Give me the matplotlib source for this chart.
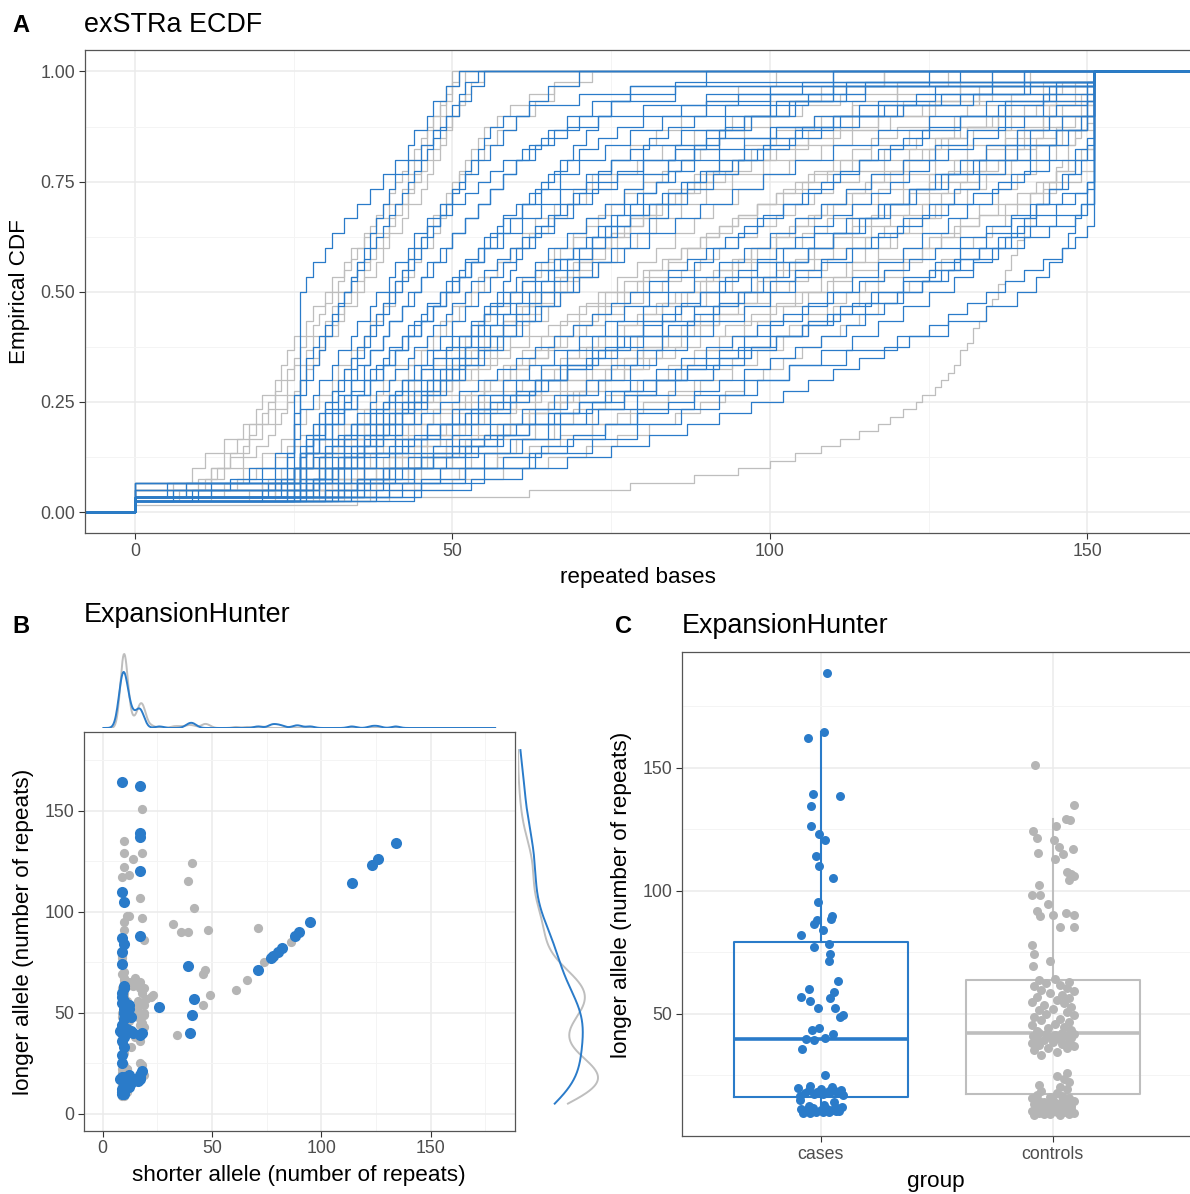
import matplotlib.pyplot as plt
import numpy as np

plt.rcParams['font.family'] = ['Liberation Sans', 'DejaVu Sans']

W, H = 1190, 1194
BLUE = '#2a7bc9'
GREY = '#bebebe'
GREY_PT = '#b5b5b5'
TXT = '#4d4d4d'
FRAME = '#555555'

# ---------------- A: exSTRa ECDF (repeated bases per sample) ----------------
ecdf_controls = [
    [0, 6, 9, 11, 14, 17, 19, 20, 22, 23, 24, 25, 27, 28, 30, 31, 33, 34, 36, 38, 40, 42, 43, 44, 45, 46, 47, 48, 49, 50],
    [0, 8, 12, 14, 16, 18, 21, 22, 24, 25, 27, 28, 30, 31, 32, 34, 35, 37, 38, 40, 41, 43, 44, 45, 46, 47, 48, 49, 50, 51],
    [0, 0, 12, 15, 18, 20, 22, 24, 26, 27, 29, 30, 32, 33, 35, 36, 38, 39, 40, 42, 43, 45, 46, 47, 48, 49, 50, 51, 52, 52],
    [0, 14, 17, 20, 23, 25, 27, 29, 31, 32, 34, 36, 37, 39, 41, 42, 44, 45, 47, 48, 49, 50, 51, 53, 55, 57, 60, 63, 66, 70],
    [0, 20, 25, 28, 31, 33, 36, 38, 40, 43, 45, 47, 49, 51, 53, 55, 57, 59, 61, 63, 66, 69, 72, 75, 78, 82, 86, 90, 95, 101],
    [0, 22, 27, 30, 33, 36, 39, 42, 44, 47, 49, 52, 54, 56, 59, 61, 64, 66, 69, 71, 74, 77, 80, 84, 88, 92, 97, 103, 110, 118],
    [0, 0, 26, 30, 34, 38, 41, 44, 47, 50, 53, 56, 58, 61, 64, 67, 70, 72, 75, 78, 81, 84, 88, 92, 96, 101, 107, 113, 120, 128],
    [0, 28, 33, 37, 41, 45, 48, 52, 55, 58, 61, 64, 67, 70, 73, 76, 79, 82, 85, 88, 91, 95, 99, 103, 108, 113, 119, 126, 133, 151],
    [0, 24, 29, 34, 39, 43, 47, 51, 55, 59, 63, 66, 70, 73, 77, 80, 84, 87, 90, 94, 98, 102, 106, 111, 116, 122, 129, 137, 151, 151],
    [0, 30, 36, 41, 46, 51, 55, 60, 64, 68, 72, 76, 80, 83, 87, 90, 94, 97, 101, 104, 108, 112, 116, 121, 126, 132, 138, 145, 151, 151],
    [0, 33, 40, 46, 52, 57, 62, 67, 71, 75, 79, 83, 87, 91, 95, 98, 102, 106, 110, 113, 117, 121, 125, 129, 134, 139, 144, 151, 151, 151],
    [0, 35, 43, 50, 57, 63, 69, 74, 79, 84, 88, 92, 96, 100, 104, 108, 112, 115, 119, 122, 126, 129, 133, 137, 141, 145, 149, 151, 151, 151],
    [0, 38, 48, 57, 65, 72, 78, 84, 89, 94, 98, 102, 106, 110, 114, 117, 121, 124, 127, 130, 133, 136, 139, 142, 145, 148, 151, 151, 151, 151],
    [0, 27, 31, 35, 38, 42, 45, 48, 51, 54, 57, 59, 62, 65, 67, 70, 73, 76, 79, 82, 86, 90, 94, 99, 104, 110, 117, 125, 135, 151],
    [0, 0, 23, 28, 32, 36, 40, 43, 46, 49, 52, 55, 58, 60, 63, 66, 69, 72, 75, 78, 82, 86, 90, 95, 100, 106, 113, 121, 130, 141],
    [0, 32, 38, 44, 49, 54, 59, 63, 67, 71, 75, 79, 83, 86, 90, 94, 97, 101, 105, 109, 113, 117, 121, 126, 131, 137, 143, 150, 151, 151],
    [0, 20, 24, 27, 30, 32, 35, 37, 39, 41, 44, 46, 48, 50, 52, 54, 57, 59, 62, 65, 68, 71, 75, 79, 83, 88, 94, 100, 108, 118],
    [0, 36, 45, 53, 60, 66, 72, 77, 82, 86, 90, 94, 98, 102, 106, 110, 113, 117, 120, 124, 127, 131, 134, 138, 142, 146, 150, 151, 151, 151],
    [0, 35, 62, 78, 88, 95, 100, 104, 108, 111, 114, 117, 119, 121, 123, 124, 126, 127, 128, 129, 130, 130, 131, 132, 132,
     133, 134, 134, 135, 136, 136, 137, 137, 138, 138, 139, 139, 140, 140, 141, 142, 142, 143, 143, 144, 145, 145, 146,
     147, 147, 148, 149, 150, 151, 151, 151, 151, 151, 151, 151],
    [0, 7, 11, 13, 15, 17, 18, 19, 20, 21, 22, 23, 24, 25, 26, 27, 28, 29, 30, 31, 32, 33, 34, 35, 36, 37, 38, 39, 40, 41,
     42, 43, 44, 45, 46, 47, 48, 49, 50, 51],
    [0, 0, 10, 14, 17, 19, 21, 22, 23, 24, 25, 26, 27, 28, 29, 30, 31, 32, 33, 34, 35, 36, 37, 38, 39, 40, 41, 42, 43, 44,
     45, 46, 47, 48, 49, 50, 51, 52, 53, 55],
    [0, 12, 16, 19, 22, 24, 26, 28, 29, 30, 31, 32, 33, 34, 35, 36, 37, 38, 39, 40, 41, 42, 43, 44, 45, 46, 47, 48, 49, 50,
     51, 52, 53, 54, 55, 57, 59, 62, 66, 72],
    [0, 0, 25, 29, 33, 36, 39, 42, 44, 46, 48, 50, 52, 54, 56, 58, 60, 62, 64, 66, 68, 70, 72, 74, 76, 78, 80, 82, 85, 88,
     91, 94, 97, 100, 104, 108, 113, 120, 130, 151],
    [0, 30, 34, 38, 42, 45, 48, 51, 54, 57, 60, 63, 66, 68, 71, 74, 77, 80, 83, 86, 89, 92, 95, 98, 101, 104, 107, 110,
     113, 116, 119, 122, 125, 128, 131, 135, 140, 145, 151, 151],
    [0, 26, 31, 35, 39, 42, 45, 48, 50, 53, 55, 58, 60, 62, 65, 67, 69, 72, 74, 76, 79, 81, 84, 86, 89, 92, 95, 98, 101,
     105, 109, 113, 118, 123, 129, 136, 144, 151, 151, 151],
    [0, 0, 34, 40, 45, 50, 55, 59, 63, 67, 70, 74, 77, 80, 83, 86, 89, 92, 95, 98, 101, 104, 107, 110, 113, 116, 119, 122,
     125, 128, 131, 134, 137, 140, 143, 146, 149, 151, 151, 151],
    [0, 22, 26, 29, 32, 35, 37, 40, 42, 44, 46, 48, 50, 52, 54, 56, 58, 60, 62, 64, 66, 68, 70, 72, 74, 77, 80, 83, 86, 89,
     93, 97, 101, 106, 111, 117, 124, 133, 143, 151],
    [0, 40, 50, 58, 65, 71, 76, 81, 85, 89, 93, 96, 99, 102, 105, 108, 111, 114, 117, 120, 122, 125, 127, 130, 132, 135,
     137, 139, 141, 143, 145, 147, 149, 151, 151, 151, 151, 151, 151, 151],
    [0, 28, 32, 36, 40, 43, 46, 49, 52, 55, 58, 61, 64, 67, 70, 73, 76, 79, 82, 85, 88, 91, 94, 97, 100, 103, 106, 109,
     112, 115, 118, 121, 124, 127, 130, 134, 138, 143, 148, 151],
    [0, 33, 38, 43, 47, 51, 55, 59, 62, 65, 68, 71, 74, 77, 80, 83, 86, 89, 92, 95, 98, 101, 104, 107, 110, 113, 116, 119,
     122, 125, 128, 131, 134, 137, 140, 143, 146, 149, 151, 151],
    [0, 18, 22, 26, 29, 31, 33, 35, 37, 39, 41, 43, 45, 47, 49, 51, 53, 55, 57, 59, 61, 63, 65, 67, 69, 71, 73, 75, 77, 80,
     83, 86, 89, 92, 96, 100, 105, 111, 120, 135],
    [0, 0, 31, 36, 40, 44, 48, 52, 56, 60, 64, 68, 72, 76, 80, 84, 88, 92, 96, 100, 103, 106, 109, 112, 115, 118, 121, 124,
     127, 130, 133, 136, 139, 142, 145, 148, 151, 151, 151, 151],
    [0, 24, 28, 32, 35, 38, 41, 44, 47, 50, 53, 56, 59, 62, 65, 68, 71, 74, 77, 80, 83, 86, 89, 92, 95, 98, 101, 104, 107,
     110, 114, 118, 122, 126, 131, 136, 142, 148, 151, 151],
    [0, 37, 44, 51, 57, 62, 67, 72, 76, 80, 84, 88, 91, 94, 97, 100, 103, 106, 109, 112, 115, 118, 121, 124, 127, 130, 133,
     136, 139, 142, 145, 148, 150, 151, 151, 151, 151, 151, 151, 151],
    [0, 0, 21, 25, 29, 32, 35, 38, 41, 44, 47, 50, 53, 56, 59, 62, 65, 68, 71, 74, 77, 80, 83, 86, 89, 92, 95, 98, 101, 104,
     107, 110, 113, 116, 120, 125, 131, 138, 146, 151],
    [0, 29, 35, 40, 45, 49, 53, 57, 61, 65, 69, 73, 77, 81, 85, 89, 93, 97, 101, 105, 109, 113, 117, 121, 125, 129, 133,
     137, 141, 145, 149, 151, 151, 151, 151, 151, 151, 151, 151, 151],
]
ecdf_cases = [
    [0, 5, 25, 25, 25, 25, 25, 25, 26, 26, 26, 26, 26, 26, 26, 27, 28, 30, 31, 33, 35, 37, 39, 41, 43, 44, 46, 47, 49, 51],
    [0, 8, 20, 24, 25, 25, 26, 26, 27, 28, 29, 30, 31, 32, 33, 34, 35, 36, 37, 38, 39, 40, 41, 43, 45, 47, 49, 51, 53, 55],
    [0, 0, 18, 22, 25, 26, 26, 28, 29, 31, 32, 34, 35, 37, 38, 40, 41, 43, 44, 46, 48, 50, 52, 54, 56, 58, 60, 62, 65, 70],
    [0, 12, 24, 26, 27, 29, 30, 32, 34, 35, 37, 39, 40, 42, 44, 45, 47, 49, 50, 52, 54, 56, 58, 60, 63, 66, 70, 75, 85, 110],
    [0, 21, 25, 26, 28, 30, 32, 34, 36, 38, 40, 42, 44, 46, 48, 50, 52, 54, 56, 58, 61, 64, 67, 70, 74, 78, 83, 90, 100, 125],
    [0, 25, 26, 26, 29, 31, 33, 35, 37, 39, 41, 43, 45, 47, 49, 51, 53, 55, 57, 59, 61, 63, 65, 67, 69, 71, 73, 75, 78, 135],
    [0, 0, 26, 28, 31, 34, 37, 40, 42, 45, 47, 50, 53, 55, 58, 60, 63, 65, 68, 71, 74, 77, 80, 84, 88, 92, 97, 103, 110, 151],
    [0, 27, 30, 33, 36, 39, 42, 45, 48, 51, 54, 57, 60, 63, 66, 69, 72, 75, 78, 81, 84, 87, 91, 95, 99, 104, 110, 117, 126, 151],
    [0, 30, 34, 38, 42, 46, 50, 54, 58, 62, 66, 70, 74, 77, 81, 84, 88, 91, 95, 98, 102, 106, 110, 114, 119, 124, 130, 137, 145, 151],
    [0, 33, 39, 45, 51, 56, 61, 66, 71, 75, 79, 83, 87, 91, 95, 99, 103, 106, 110, 114, 118, 122, 126, 130, 134, 139, 144, 150, 151, 151],
    [0, 36, 44, 52, 59, 65, 71, 77, 82, 87, 92, 96, 100, 105, 109, 113, 117, 121, 124, 128, 131, 135, 138, 141, 144, 147, 150, 151, 151, 151],
    [0, 40, 52, 63, 72, 79, 86, 92, 98, 103, 108, 113, 117, 121, 125, 129, 132, 135, 138, 140, 142, 144, 146, 148, 150, 151, 151, 151, 151, 151],
    [0, 45, 55, 62, 68, 74, 79, 88, 96, 103, 112, 120, 128, 134, 139, 142, 144, 146, 147, 148, 149, 150, 151, 151, 151, 151, 151, 151, 151, 151],
    [0, 42, 48, 55, 61, 67, 73, 79, 85, 91, 96, 101, 106, 111, 116, 121, 126, 130, 134, 138, 141, 144, 147, 149, 151, 151, 151, 151, 151, 151],
    [0, 29, 32, 35, 38, 41, 44, 46, 49, 52, 55, 58, 61, 64, 67, 70, 73, 77, 81, 85, 89, 94, 99, 104, 110, 117, 125, 134, 144, 151],
    [0, 24, 26, 27, 29, 31, 33, 35, 37, 39, 41, 43, 45, 47, 49, 51, 53, 55, 58, 61, 64, 67, 71, 75, 80, 86, 93, 101, 112, 151],
    [0, 0, 31, 36, 41, 46, 51, 56, 60, 64, 68, 72, 76, 80, 84, 88, 92, 96, 100, 104, 108, 112, 116, 121, 126, 131, 137, 143, 150, 151],
    [0, 26, 26, 27, 28, 30, 31, 33, 34, 36, 37, 39, 40, 42, 43, 45, 46, 48, 50, 52, 54, 56, 58, 60, 62, 65, 68, 72, 78, 90],
    [0, 35, 41, 47, 53, 58, 63, 68, 73, 78, 82, 87, 91, 96, 100, 104, 108, 113, 117, 121, 125, 129, 133, 137, 141, 145, 149, 151, 151, 151],
    [0, 23, 27, 30, 33, 35, 38, 40, 42, 44, 46, 48, 50, 52, 54, 56, 58, 60, 63, 66, 69, 72, 76, 80, 85, 90, 96, 104, 115, 140],
    [0, 28, 33, 38, 43, 48, 53, 58, 63, 68, 73, 78, 83, 88, 92, 97, 101, 106, 110, 115, 119, 123, 128, 132, 137, 141, 146, 150, 151, 151],
    [0, 32, 36, 41, 45, 50, 54, 59, 63, 67, 72, 76, 80, 85, 89, 93, 98, 102, 107, 112, 117, 122, 127, 133, 139, 145, 150, 151, 151, 151],
    [0, 6, 15, 22, 24, 25, 25, 25, 25, 26, 26, 26, 27, 27, 28, 29, 30, 31, 32, 33, 34, 35, 36, 37, 38, 39, 40, 41, 42, 43,
     44, 45, 46, 47, 48, 49, 50, 51, 52, 54],
    [0, 10, 23, 25, 26, 27, 28, 29, 30, 31, 32, 33, 34, 35, 36, 37, 38, 39, 40, 41, 42, 43, 44, 45, 46, 47, 48, 49, 50, 51,
     52, 53, 54, 55, 56, 58, 62, 70, 85, 110],
    [0, 24, 26, 26, 28, 30, 32, 34, 35, 37, 38, 40, 41, 43, 44, 46, 47, 49, 50, 52, 53, 55, 57, 59, 61, 63, 65, 67, 69, 71,
     73, 75, 78, 81, 84, 88, 93, 100, 112, 140],
    [0, 26, 29, 31, 34, 36, 38, 40, 42, 44, 46, 48, 50, 52, 54, 56, 58, 60, 62, 64, 66, 68, 70, 72, 74, 76, 78, 80, 83, 86,
     89, 92, 96, 100, 105, 111, 118, 127, 140, 151],
    [0, 31, 35, 39, 43, 47, 50, 53, 56, 59, 62, 65, 68, 71, 74, 77, 80, 83, 86, 89, 92, 95, 98, 101, 104, 107, 110, 113,
     116, 119, 122, 125, 128, 132, 136, 140, 145, 150, 151, 151],
    [0, 38, 45, 52, 58, 64, 69, 74, 79, 84, 88, 92, 96, 100, 104, 108, 112, 115, 118, 121, 124, 127, 130, 133, 136, 139,
     142, 145, 148, 150, 151, 151, 151, 151, 151, 151, 151, 151, 151, 151],
    [0, 25, 27, 29, 31, 33, 35, 37, 39, 41, 43, 45, 47, 49, 51, 53, 55, 57, 59, 61, 63, 65, 67, 69, 71, 73, 75, 77, 79, 82,
     85, 88, 92, 96, 101, 107, 114, 123, 135, 151],
    [0, 34, 39, 44, 49, 54, 58, 62, 66, 70, 74, 78, 82, 86, 90, 94, 98, 102, 106, 110, 114, 118, 122, 126, 130, 134, 138,
     142, 146, 150, 151, 151, 151, 151, 151, 151, 151, 151, 151, 151],
    [0, 27, 29, 31, 33, 35, 37, 39, 41, 43, 45, 47, 49, 51, 52, 53, 54, 55, 56, 57, 58, 59, 60, 61, 62, 64, 66, 68, 70, 73,
     76, 80, 85, 92, 100, 110, 120, 132, 145, 151],
    [0, 0, 28, 32, 36, 40, 44, 48, 52, 56, 60, 64, 68, 72, 76, 80, 84, 88, 92, 96, 100, 104, 108, 112, 116, 120, 124, 128,
     132, 136, 140, 144, 148, 150, 151, 151, 151, 151, 151, 151],
    [0, 9, 22, 25, 26, 27, 28, 30, 31, 33, 34, 36, 37, 39, 40, 42, 43, 45, 46, 48, 49, 51, 52, 54, 55, 57, 58, 60, 62, 64,
     66, 68, 70, 73, 76, 80, 86, 95, 110, 151],
    [0, 25, 26, 27, 29, 31, 33, 35, 37, 39, 41, 43, 45, 47, 49, 51, 53, 55, 57, 59, 61, 63, 66, 69, 72, 75, 78, 81, 84, 87,
     90, 94, 98, 103, 108, 114, 121, 130, 141, 151],
    [0, 0, 27, 30, 33, 36, 39, 42, 45, 48, 51, 54, 57, 60, 63, 66, 69, 72, 75, 78, 81, 84, 87, 90, 93, 96, 99, 102, 105,
     108, 111, 114, 117, 121, 125, 130, 136, 143, 150, 151],
    [0, 30, 35, 40, 45, 50, 55, 60, 65, 70, 75, 80, 85, 90, 95, 100, 105, 110, 115, 120, 124, 128, 132, 136, 140, 144, 148,
     150, 151, 151, 151, 151, 151, 151, 151, 151, 151, 151, 151, 151],
    [0, 26, 28, 30, 32, 34, 36, 38, 40, 42, 44, 46, 48, 50, 52, 54, 56, 58, 60, 62, 64, 66, 68, 70, 72, 74, 76, 78, 80, 82,
     84, 86, 88, 90, 93, 96, 100, 106, 115, 130],
    [0, 44, 53, 61, 68, 75, 81, 87, 92, 97, 102, 106, 110, 114, 118, 122, 125, 128, 131, 134, 137, 140, 143, 146, 148, 150,
     151, 151, 151, 151, 151, 151, 151, 151, 151, 151, 151, 151, 151, 151],
    [0, 20, 25, 25, 26, 26, 27, 28, 29, 30, 31, 32, 33, 34, 35, 36, 37, 38, 39, 40, 41, 42, 43, 44, 45, 46, 48, 50, 52, 54,
     56, 58, 61, 64, 68, 73, 80, 90, 105, 151],
    [0, 32, 37, 42, 47, 52, 57, 62, 67, 72, 77, 82, 87, 92, 97, 101, 105, 109, 113, 117, 121, 125, 129, 133, 137, 141, 145,
     149, 151, 151, 151, 151, 151, 151, 151, 151, 151, 151, 151, 151],
]

# ---------------- B: ExpansionHunter (shorter, longer allele) ----------------
b_controls = [
    (18, 151), (10, 135), (10, 129), (18, 129), (14, 126), (41, 124), (10, 122), (9, 117), (12, 118), (39, 115),
    (17, 107), (11, 98), (12, 98), (18, 97), (32, 94), (10, 95), (10, 91), (36, 90), (39, 90), (48, 91),
    (71, 92), (19, 86), (9, 78), (47, 71), (46, 69), (74, 75), (66, 66), (61, 61), (49, 59), (46, 54),
    (34, 39), (86, 85), (10, 67), (12, 65), (17, 65), (19, 62), (22, 58), (17, 62), (16, 56), (19, 54),
    (16, 50), (19, 50), (17, 47), (17, 44), (18, 40), (13, 33), (17, 36), (17, 25), (18, 24), (19, 19),
    (17, 17), (9, 77), (10, 70), (15, 67), (14, 63), (18, 60), (20, 57), (16, 53), (19, 49), (18, 45),
    (19, 43), (15, 38), (18, 21), (10, 60), (11, 55), (9, 50), (12, 46), (17, 20), (23, 59), (42, 102),
    (9, 9), (9, 10), (10, 11), (10, 12), (9, 13), (10, 14), (9, 15), (10, 16), (11, 12), (9, 11),
    (10, 10), (10, 13), (9, 14), (10, 15), (9, 16), (10, 17), (9, 18), (10, 19), (9, 12), (10, 9),
    (11, 14), (11, 16), (9, 20), (10, 21), (11, 11), (9, 17), (10, 18), (9, 19), (10, 20), (11, 22),
    (11, 18), (10, 16), (11, 22), (9, 19), (11, 14), (10, 23), (9, 35), (10, 41), (10, 30), (9, 48),
    (10, 57), (11, 63), (9, 62), (11, 52), (9, 58), (10, 66), (9, 69), (10, 60), (11, 56), (10, 64),
    (10, 54), (9, 12), (10, 15), (9, 18), (10, 20), (9, 22), (10, 24), (9, 14), (9, 61), (10, 17),
    (10, 58),
]
b_cases = [
    (9, 164), (17, 162), (17, 139), (17, 137), (134, 134), (126, 126), (123, 123), (17, 120), (114, 114), (9, 110),
    (10, 105), (9, 87), (10, 84), (17, 88), (95, 95), (90, 90), (88, 88), (82, 82), (80, 80), (78, 78),
    (77, 77), (71, 71), (9, 74), (39, 73), (10, 63), (9, 60), (10, 56), (12, 54), (12, 52), (10, 50),
    (13, 48), (9, 44), (11, 42), (8, 41), (13, 41), (14, 40), (9, 36), (18, 40), (26, 53), (42, 57),
    (41, 49), (40, 40), (9, 25), (8, 17), (10, 18), (12, 19), (14, 17), (17, 18), (18, 21), (10, 11),
    (12, 13), (13, 15), (9, 10), (16, 16), (9, 18), (10, 16), (17, 19), (17, 17), (9, 40), (10, 38),
    (9, 43), (17, 39), (10, 33), (9, 29), (10, 47), (9, 55), (10, 52), (9, 58), (10, 62), (9, 80),
    (9, 11), (10, 10), (9, 12), (10, 13),
]

# ---------------- C: longer allele by group (jitter offset, value) ----------------
groups = ['cases', 'controls']
c_cases = [
    (0.025, 188.5), (0.014, 164.5), (-0.054, 162.2), (-0.035, 139.1), (0.083, 138.3), (-0.044, 134.2),
    (-0.041, 126.1), (-0.006, 123.1), (0.018, 120.4), (-0.021, 113.9), (-0.009, 109.8), (0.054, 105.2),
    (-0.012, 95.2), (0.047, 89.8), (0.043, 88.5), (-0.018, 88.0), (-0.029, 86.4), (0.011, 84.0),
    (-0.087, 81.9), (0.035, 78.3), (-0.029, 76.9), (0.04, 74.2), (0.035, 71.5), (0.074, 63.3),
    (-0.051, 59.9), (0.058, 58.6), (-0.085, 56.9), (0.039, 56.3), (-0.047, 55.2), (-0.014, 52.4),
    (0.06, 52.4), (0.083, 48.4), (0.095, 49.3), (-0.039, 43.2), (-0.006, 44.3), (0.054, 41.6),
    (-0.065, 39.6), (-0.03, 39.4), (0.018, 40.2), (-0.081, 35.7), (0.018, 25.0),
    (-0.09, 16.6), (0.095, 16.9), (-0.03, 17.1), (0.01, 17.3), (0.075, 17.5), (-0.07, 17.7), (0.04, 17.9),
    (-0.015, 18.1), (0.06, 18.3), (0.035, 18.5), (-0.05, 18.8), (0.085, 19.0), (0.0, 19.3), (-0.1, 19.6),
    (0.05, 20.0), (-0.045, 20.5),
    (-0.075, 9.4), (-0.045, 9.6), (-0.02, 9.8), (0.01, 10.0), (0.035, 10.1), (0.065, 10.3), (0.08, 10.4),
    (-0.06, 10.6), (0.0, 10.7), (0.05, 10.9), (-0.085, 11.0), (0.025, 11.2), (-0.035, 11.4), (0.07, 11.7),
    (0.09, 12.0), (-0.05, 12.5), (0.015, 13.0), (0.055, 14.0), (-0.09, 15.0),
]
c_controls = [
    (-0.075, 150.9), (0.092, 134.9), (0.058, 129.2), (0.075, 128.8), (0.015, 126.1), (-0.086, 124.2),
    (-0.066, 121.5), (0.006, 120.7), (-0.062, 115.2), (0.027, 117.6), (0.044, 115.0), (0.088, 117.0),
    (0.01, 112.9), (0.06, 107.7), (0.08, 106.9), (0.092, 106.0), (0.068, 104.1), (-0.061, 102.4),
    (-0.091, 98.0), (-0.055, 98.0), (-0.02, 94.6), (-0.07, 91.8), (-0.055, 89.7), (0.0, 90.2),
    (0.055, 91.0), (0.092, 90.0), (0.03, 85.3), (0.092, 85.3), (-0.091, 78.0), (-0.08, 74.2),
    (-0.014, 71.2), (-0.086, 69.4),
    (0.04, 42.2), (-0.07, 42.8), (0.08, 43.4), (-0.02, 44.0), (0.05, 44.6), (-0.09, 45.2), (0.01, 45.9),
    (0.07, 46.5), (-0.05, 47.2), (0.03, 47.8), (-0.08, 48.5), (0.09, 49.2), (-0.03, 49.9), (0.06, 50.6),
    (-0.06, 51.3), (0.0, 52.0), (0.08, 52.7), (-0.04, 53.4), (0.05, 54.1), (-0.09, 54.8), (0.02, 55.5),
    (0.07, 56.2), (-0.07, 56.9), (0.04, 57.6), (-0.01, 58.3), (0.09, 59.0), (-0.05, 59.7), (0.06, 60.4),
    (-0.08, 61.0), (0.03, 61.7), (-0.03, 62.3), (0.07, 62.9), (-0.06, 63.5), (0.01, 64.0),
    (-0.05, 33.2), (0.02, 34.5), (-0.08, 35.0), (0.06, 35.8), (-0.02, 36.1), (0.09, 36.8), (-0.06, 37.2),
    (0.04, 37.5), (-0.09, 38.0), (0.0, 38.4), (0.07, 38.9), (-0.04, 39.1), (0.03, 39.5), (-0.07, 39.8),
    (0.08, 40.2), (-0.01, 40.5), (0.05, 40.8), (-0.085, 41.0), (0.01, 41.2), (0.065, 41.4), (-0.03, 41.6),
    (0.09, 41.8), (-0.06, 41.9),
    (0.02, 17.5), (-0.05, 18.4), (0.06, 19.3), (0.03, 20.2), (-0.06, 21.0), (0.07, 22.0), (0.05, 23.2),
    (0.02, 24.5), (0.06, 25.8),
    (-0.08, 8.6), (0.03, 8.8), (-0.04, 9.0), (0.07, 9.1), (-0.01, 9.3), (0.09, 9.5), (-0.06, 9.6),
    (0.02, 9.8), (0.05, 10.0), (-0.09, 10.2), (0.0, 10.4), (0.06, 10.6), (-0.03, 10.8), (0.08, 11.0),
    (-0.07, 11.3), (0.04, 11.6), (-0.05, 11.9), (0.01, 12.2), (0.08, 12.5), (-0.02, 12.8), (0.06, 13.1),
    (-0.08, 13.4), (0.03, 13.7), (-0.04, 14.0), (0.09, 14.3), (-0.06, 14.6), (0.0, 14.9), (0.05, 15.2),
    (-0.09, 15.5), (0.07, 15.8), (-0.01, 16.1), (0.04, 16.4), (-0.07, 16.8),
]


def fx(px):
    return px / W


def fy(py):
    return 1 - py / H


def kde(values, grid, adjust=1.0):
    v = np.asarray(values, float)
    n = len(v)
    iqr = np.subtract(*np.percentile(v, [75, 25]))
    bw = adjust * 0.9 * min(v.std(ddof=1), iqr / 1.34) * n ** -0.2
    z = (grid[:, None] - v[None, :]) / bw
    return np.exp(-0.5 * z ** 2).sum(1) / (n * bw * np.sqrt(2 * np.pi))


def style(ax, xmaj, xmin, ymaj, ymin, right=True):
    ax.set_xticks(xmaj)
    ax.set_xticks(xmin, minor=True)
    ax.set_yticks(ymaj)
    ax.set_yticks(ymin, minor=True)
    ax.grid(which='major', color='#ebebeb', lw=1.1)
    ax.grid(which='minor', color='#f4f4f4', lw=0.7)
    ax.set_axisbelow(True)
    ax.tick_params(which='major', length=4, width=0.8, color='#333333', labelcolor=TXT,
                   labelsize=12.8, pad=3)
    ax.tick_params(which='minor', length=0)
    for s in ax.spines.values():
        s.set_color(FRAME)
        s.set_linewidth(0.9)
    ax.spines['right'].set_visible(right)


fig = plt.figure(figsize=(W / 100, H / 100), dpi=100)

# ---- panel A
axA = fig.add_axes([fx(85), fy(533), (1192 - 85) / W, (533 - 49.5) / H])
xa0, xa1 = -7.87, 166.5
for vals, col in [(v, GREY) for v in ecdf_controls] + [(v, BLUE) for v in ecdf_cases]:
    v = np.sort(np.asarray(vals, float))
    xs = np.concatenate([[xa0], v, [xa1]])
    ys = np.concatenate([[0], np.arange(1, len(v) + 1) / len(v), [1]])
    axA.step(xs, ys, where='post', color=col, lw=0.9)
axA.set_xlim(xa0, xa1)
axA.set_ylim(-0.0476, 1.0499)
style(axA, [0, 50, 100, 150], [25, 75, 125], [0, 0.25, 0.5, 0.75, 1.0], [0.125, 0.375, 0.625, 0.875], right=False)
axA.set_yticklabels(['0.00', '0.25', '0.50', '0.75', '1.00'])

# ---- panel B
bc = np.array(b_controls, float)
bk = np.array(b_cases, float)
axB = fig.add_axes([fx(83.8), fy(1130.7), (514.8 - 83.8) / W, (1130.7 - 731.7) / H])
axB.scatter(bc[:, 0], bc[:, 1], s=44, color=GREY_PT, lw=0, zorder=3)
axB.scatter(bk[:, 0], bk[:, 1], s=64, color=BLUE, lw=0, zorder=4)
axB.set_xlim(-8.6, 188.5)
axB.set_ylim(-8.4, 189.1)
style(axB, [0, 50, 100, 150], [25, 75, 125, 175], [0, 50, 100, 150], [25, 75, 125, 175])

gx = np.linspace(0.4, 179.5, 600)
dtc, dtk = kde(bc[:, 0], gx, 0.75), kde(bk[:, 0], gx, 0.75)
axT = fig.add_axes([fx(83.8), fy(728), (514.8 - 83.8) / W, 80 / H])
axT.plot(gx, dtc, color=GREY, lw=1.4)
axT.plot(gx, dtk, color=BLUE, lw=1.4)
axT.set_xlim(-8.6, 188.5)
axT.set_ylim(0, max(dtc.max(), dtk.max()) * 80 / 74)
axT.axis('off')

gy = np.linspace(5, 180, 500)
drc, drk = kde(bc[:, 1], gy), kde(bk[:, 1], gy)
axR = fig.add_axes([fx(518), fy(1130.7), 84 / W, (1130.7 - 731.7) / H])
axR.plot(drc, gy, color=GREY, lw=1.4)
axR.plot(drk, gy, color=BLUE, lw=1.4)
axR.set_ylim(-8.4, 189.1)
axR.set_xlim(0, max(drc.max(), drk.max()) * 84 / 80)
axR.axis('off')

# ---- panel C
cc = np.array(c_cases, float)
ck = np.array(c_controls, float)
axC = fig.add_axes([fx(682), fy(1136), (1192 - 682) / W, (1136 - 651.7) / H])
bp = axC.boxplot([cc[:, 1], ck[:, 1]], positions=[1, 2], widths=0.75, showfliers=False,
                 showcaps=False, whis=1.5)
for i, col in enumerate([BLUE, GREY]):
    bp['boxes'][i].set(color=col, lw=1.5)
    bp['medians'][i].set(color=col, lw=2.6)
    for w in bp['whiskers'][2 * i:2 * i + 2]:
        w.set(color=col, lw=1.5)
axC.scatter(1 + cc[:, 0], cc[:, 1], s=42, color=BLUE, lw=0, zorder=4)
axC.scatter(2 + ck[:, 0], ck[:, 1], s=42, color=GREY_PT, lw=0, zorder=4)
axC.set_xlim(0.4017, 2.6)
axC.set_ylim(0.2, 197.1)
style(axC, [1, 2], [], [50, 100, 150], [25, 75, 125, 175], right=False)
axC.set_xticklabels(groups)

# ---- texts
for letter, xl, yb in [('A', 21, 32), ('B', 21, 633), ('C', 624, 633)]:
    fig.text(fx(xl), fy(yb), letter, ha='center', va='baseline', fontsize=17, fontweight='bold')
fig.text(fx(84), fy(32), 'exSTRa ECDF', va='baseline', fontsize=19.4)
fig.text(fx(84), fy(621.5), 'ExpansionHunter', va='baseline', fontsize=19.4)
fig.text(fx(682), fy(633), 'ExpansionHunter', va='baseline', fontsize=19.4)

fig.text(fx(638), fy(578), 'repeated bases', ha='center', va='center', fontsize=16.2)
fig.text(fx(20), fy(292), 'Empirical CDF', ha='center', va='center', rotation=90, fontsize=16.2)
fig.text(fx(299), fy(1176), 'shorter allele (number of repeats)', ha='center', va='center', fontsize=16.2)
fig.text(fx(24), fy(932), 'longer allele (number of repeats)', ha='center', va='center', rotation=90, fontsize=16.2)
fig.text(fx(936), fy(1181), 'group', ha='center', va='center', fontsize=16.2)
fig.text(fx(622), fy(895), 'longer allele (number of repeats)', ha='center', va='center', rotation=90, fontsize=16.2)

fig.savefig('out.png', dpi=100)
